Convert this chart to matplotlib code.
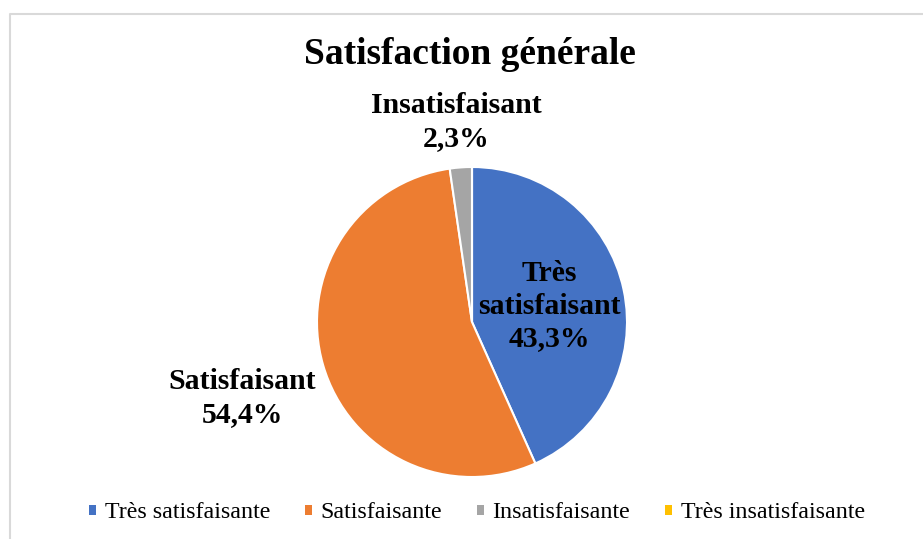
import matplotlib
matplotlib.use("Agg")
import matplotlib.pyplot as plt
from matplotlib.lines import Line2D
from matplotlib.patches import Patch

categories = ["Très satisfaisante", "Satisfaisante", "Insatisfaisante", "Très insatisfaisante"]
values = [43.3, 54.4, 2.3, 0.0]
point_labels = ["Très\nsatisfaisant", "Satisfaisant", "Insatisfaisant", ""]
colors = ["#4472C4", "#ED7D31", "#A5A5A5", "#FFC000"]
title = "Satisfaction générale"

W, H = 923, 539
fig = plt.figure(figsize=(W / 100, H / 100), dpi=100)
fig.patch.set_facecolor("white")

# chart-area border (light gray, cropped on right/bottom)
fig.add_artist(Line2D([9.5 / W, 9.5 / W, 1.01], [-0.01, 1 - 13.5 / H, 1 - 13.5 / H],
                      transform=fig.transFigure, color="#D9D9D9", lw=1.5))

cx, cy, r = 472, 322, 155
ax = fig.add_axes([(cx - r) / W, (H - cy - r) / H, 2 * r / W, 2 * r / H])
wedges, _ = ax.pie(values, colors=colors, startangle=90, counterclock=False,
                   radius=1.0, wedgeprops=dict(edgecolor="white", linewidth=1.5))
ax.set_xlim(-1, 1)
ax.set_ylim(-1, 1)
ax.axis("off")

serif = ["Liberation Serif", "DejaVu Serif"]
lab_pos = [((549 - cx) / r, (cy - 306) / r),
           ((242 - cx) / r, (cy - 398) / r),
           ((456 - cx) / r, (cy - 122) / r)]
for i, (lbl, pos) in enumerate(zip(point_labels, lab_pos)):
    txt = f"{lbl}\n{values[i]:.1f}%".replace(".", ",")
    ax.text(pos[0], pos[1], txt, ha="center", va="center", fontsize=21.4,
            fontweight="bold", family=serif, linespacing=1.26, clip_on=False)

fig.text(470 / W, 1 - 55 / H, title, ha="center", va="center", fontsize=27,
         fontweight="bold", family=serif)

handles = [Patch(facecolor=c, edgecolor="none") for c in colors]
fig.legend(handles, categories, loc="center", bbox_to_anchor=(477 / W, 1 - 513 / H),
           ncol=4, frameon=False, prop=dict(family=serif, size=17.3),
           handlelength=0.3, handleheight=0.3, handletextpad=0.35, columnspacing=1.45)

fig.savefig("out.png", dpi=100, facecolor="white")
